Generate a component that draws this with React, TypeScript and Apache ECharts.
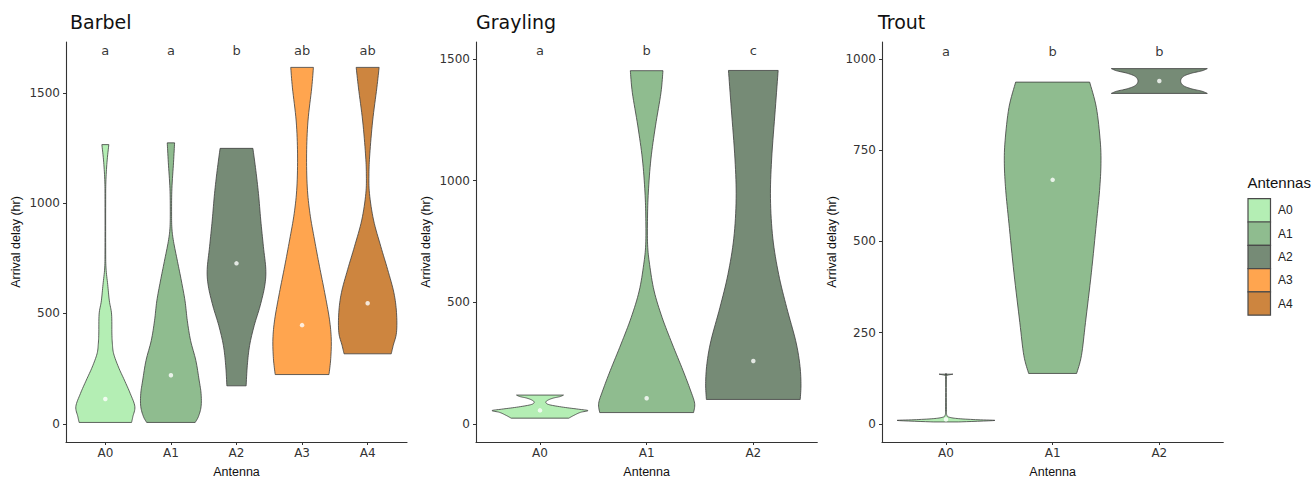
import React, { useEffect, useRef } from "react";
import * as echarts from "echarts";

// ---------- data ----------
const antennas = ["A0", "A1", "A2", "A3", "A4"];
const fillColors = ["#B4EEB4", "#8FBC8F", "#768B76", "#FFA54F", "#CD853F"];
const panelTitles = ["Barbel", "Grayling", "Trout"];

// violin outlines: [arrival delay (hr), half width in category units]
const barbelA0 = [[6, 0.4], [33, 0.42], [78, 0.45], [137, 0.38], [198, 0.29], [257, 0.2], [317, 0.127], [360, 0.108], [407, 0.1], [497, 0.095], [557, 0.061], [631, 0.036], [706, 0.01], [800, 0.005], [1000, 0.005], [1096, 0.008], [1185, 0.025], [1265, 0.053]];
const barbelA1 = [[6, 0.37], [33, 0.42], [78, 0.46], [137, 0.46], [198, 0.43], [287, 0.38], [377, 0.3], [467, 0.25], [557, 0.215], [647, 0.16], [736, 0.1], [826, 0.04], [886, 0.015], [961, 0.01], [1066, 0.015], [1185, 0.04], [1273, 0.056]];
const barbelA2 = [[172, 0.147], [265, 0.165], [355, 0.2], [445, 0.27], [534, 0.36], [624, 0.43], [699, 0.447], [804, 0.41], [923, 0.37], [1043, 0.335], [1148, 0.295], [1248, 0.25]];
const barbelA3 = [[223, 0.41], [295, 0.437], [384, 0.445], [474, 0.417], [594, 0.345], [714, 0.265], [833, 0.19], [953, 0.12], [1073, 0.079], [1223, 0.069], [1372, 0.09], [1522, 0.147], [1615, 0.173]];
const barbelA4 = [[317, 0.36], [355, 0.39], [414, 0.44], [504, 0.44], [594, 0.4], [699, 0.305], [804, 0.2], [923, 0.09], [1043, 0.028], [1133, 0.02], [1223, 0.033], [1372, 0.076], [1522, 0.14], [1615, 0.175]];

const graylingA0 = [[23, 0.27], [35, 0.32], [47, 0.38], [54, 0.45], [60, 0.36], [68, 0.22], [78, 0.09], [87, 0.055], [96, 0.07], [105, 0.12], [112, 0.19], [118, 0.22]];
const graylingA1 = [[46, 0.44], [84, 0.45], [139, 0.41], [220, 0.34], [328, 0.24], [437, 0.145], [546, 0.07], [654, 0.028], [736, 0.009], [845, 0.008], [953, 0.016], [1089, 0.04], [1225, 0.083], [1361, 0.134], [1452, 0.153]];
const graylingA2 = [[100, 0.44], [165, 0.447], [247, 0.435], [342, 0.397], [478, 0.313], [614, 0.238], [763, 0.183], [926, 0.161], [1089, 0.172], [1293, 0.206], [1453, 0.233]];

const troutA0 = [[5, 0.12], [9, 0.455], [11, 0.3], [14, 0.12], [18, 0.03], [24, 0.008], [40, 0.004], [130, 0.004], [133, 0.012], [136, 0.065]];
const troutA1 = [[138, 0.225], [187, 0.27], [278, 0.308], [414, 0.363], [550, 0.41], [640, 0.44], [713, 0.453], [776, 0.446], [867, 0.41], [937, 0.347]];
const troutA2 = [[906, 0.45], [912, 0.4], [918, 0.31], [925, 0.24], [932, 0.21], [940, 0.2], [948, 0.21], [955, 0.24], [962, 0.31], [968, 0.4], [974, 0.45]];

const barbelMedians = [112, 220, 727, 447, 546];
const graylingMedians = [55, 105, 258];
const troutMedians = [12, 669, 940];

const barbelLetters = ["a", "a", "b", "ab", "ab"];
const graylingLetters = ["a", "b", "c"];
const troutLetters = ["a", "b", "b"];
const letterY = [1690, 1533, 1022];

const barbelTicks = [0, 500, 1000, 1500];
const graylingTicks = [0, 500, 1000, 1500];
const troutTicks = [0, 250, 500, 750, 1000];
const yRanges = [[-82.6, 1730], [-75, 1570], [-50, 1047]];

// ---------- layout ----------
const grids = [
  { left: 66, top: 42, width: 341, height: 403.7 },
  { left: 476, top: 42, width: 341.3, height: 403.7 },
  { left: 882, top: 42, width: 341.3, height: 403.7 },
];
const titleX = [70, 476, 878];

const panels = [
  { profiles: [barbelA0, barbelA1, barbelA2, barbelA3, barbelA4], medians: barbelMedians, letters: barbelLetters, ticks: barbelTicks },
  { profiles: [graylingA0, graylingA1, graylingA2], medians: graylingMedians, letters: graylingLetters, ticks: graylingTicks },
  { profiles: [troutA0, troutA1, troutA2], medians: troutMedians, letters: troutLetters, ticks: troutTicks },
];

function spline(prof: number[][], steps = 8): number[][] {
  const out: number[][] = [];
  const n = prof.length;
  for (let i = 0; i < n - 1; i++) {
    const p0 = prof[Math.max(i - 1, 0)], p1 = prof[i], p2 = prof[i + 1], p3 = prof[Math.min(i + 2, n - 1)];
    for (let s = 0; s < steps; s++) {
      const t = s / steps, t2 = t * t, t3 = t2 * t;
      const f = (a: number, b: number, c: number, d: number) =>
        0.5 * (2 * b + (-a + c) * t + (2 * a - 5 * b + 4 * c - d) * t2 + (-a + 3 * b - 3 * c + d) * t3);
      out.push([f(p0[0], p1[0], p2[0], p3[0]), Math.max(0, f(p0[1], p1[1], p2[1], p3[1]))]);
    }
  }
  out.push(prof[n - 1]);
  return out;
}

const tickFont = "DejaVu Sans";
const textFont = "Liberation Sans";

export default function App() {
  const ref = useRef<HTMLDivElement>(null);
  useEffect(() => {
    if (!ref.current) return;
    const chart = echarts.init(ref.current, undefined, { renderer: "svg" });
    const xAxis: any[] = [];
    const yAxis: any[] = [];
    const series: any[] = [];
    panels.forEach((p, pi) => {
      const n = p.profiles.length;
      const cats = antennas.slice(0, n);
      const idx = cats.map((_, i) => i);
      xAxis.push({
        type: "value", gridIndex: pi, min: -0.6, max: n - 1 + 0.6,
        name: "Antenna", nameLocation: "middle", nameGap: 23,
        nameTextStyle: { fontFamily: textFont, fontSize: 12.5, color: "#111" },
        axisLine: { show: true, onZero: false, lineStyle: { color: "#333", width: 1.1 } },
        axisTick: { show: true, length: 3, lineStyle: { color: "#333", width: 1 }, customValues: idx },
        axisLabel: { customValues: idx, formatter: (v: number) => cats[Math.round(v)] ?? "", fontFamily: tickFont, fontSize: 12, color: "#333", margin: 5 },
        splitLine: { show: false },
      });
      yAxis.push({
        type: "value", gridIndex: pi, min: yRanges[pi][0], max: yRanges[pi][1],
        name: "Arrival delay (hr)", nameLocation: "middle", nameGap: 44,
        nameTextStyle: { fontFamily: textFont, fontSize: 12.5, color: "#111" },
        axisLine: { show: true, onZero: false, lineStyle: { color: "#333", width: 1.1 } },
        axisTick: { show: true, length: 3, lineStyle: { color: "#333", width: 1 }, customValues: p.ticks },
        axisLabel: { customValues: p.ticks, formatter: (v: number) => String(v), fontFamily: tickFont, fontSize: 12, color: "#333", margin: 6 },
        splitLine: { show: false },
      });
      const profiles = p.profiles;
      series.push({
        type: "custom", xAxisIndex: pi, yAxisIndex: pi,
        encode: { x: 0, y: 1 },
        data: idx.map((i) => [i, p.medians[i]]),
        renderItem: (params: any, api: any) => {
          const gi = api.value(0);
          const pts = spline(profiles[gi]);
          const right = pts.map(([v, hw]) => api.coord([gi + hw, v]));
          const left = pts.slice().reverse().map(([v, hw]) => api.coord([gi - hw, v]));
          return {
            type: "polygon",
            shape: { points: right.concat(left) },
            style: { fill: fillColors[gi], stroke: "#3d3d3d", lineWidth: 0.8 },
          };
        },
        z: 2,
      });
      series.push({
        type: "scatter", xAxisIndex: pi, yAxisIndex: pi,
        data: idx.map((i) => [i, p.medians[i]]),
        symbolSize: 4.5, itemStyle: { color: "#ffffff" }, z: 5, silent: true,
      });
      series.push({
        type: "scatter", xAxisIndex: pi, yAxisIndex: pi,
        data: idx.map((i) => [i, letterY[pi], p.letters[i]]),
        symbolSize: 0, silent: true,
        label: { show: true, position: "inside", formatter: (d: any) => d.data[2], fontFamily: tickFont, fontSize: 13, color: "#000", textBorderWidth: 0 },
      });
    });

    const legendGraphics: any[] = [
      { type: "text", left: 1247.5, top: 175, style: { text: "Antennas", fontFamily: textFont, fontSize: 15, fill: "#111" } },
    ];
    antennas.forEach((a, i) => {
      const y = 198.7 + i * 23.3;
      legendGraphics.push({ type: "rect", shape: { x: 1248, y, width: 22.5, height: 23.3 }, style: { fill: fillColors[i], stroke: "#4a4a4a", lineWidth: 1.2 } });
      legendGraphics.push({ type: "text", x: 1278, y: y + 11.7, style: { text: a, fontFamily: textFont, fontSize: 12, fill: "#222", verticalAlign: "middle", align: "left" } });
    });

    chart.setOption({
      animation: false,
      backgroundColor: "#ffffff",
      title: panelTitles.map((t, i) => ({
        text: t, left: titleX[i], top: 12, padding: 0,
        textStyle: { fontFamily: tickFont, fontSize: 19, fontWeight: "normal", color: "#111" },
      })),
      grid: grids.map((g) => ({ ...g, containLabel: false })),
      xAxis, yAxis, series,
      graphic: legendGraphics,
    });
    return () => chart.dispose();
  }, []);
  return <div ref={ref} style={{ position: "absolute", left: 0, top: 0, width: 1312, height: 483 }} />;
}
